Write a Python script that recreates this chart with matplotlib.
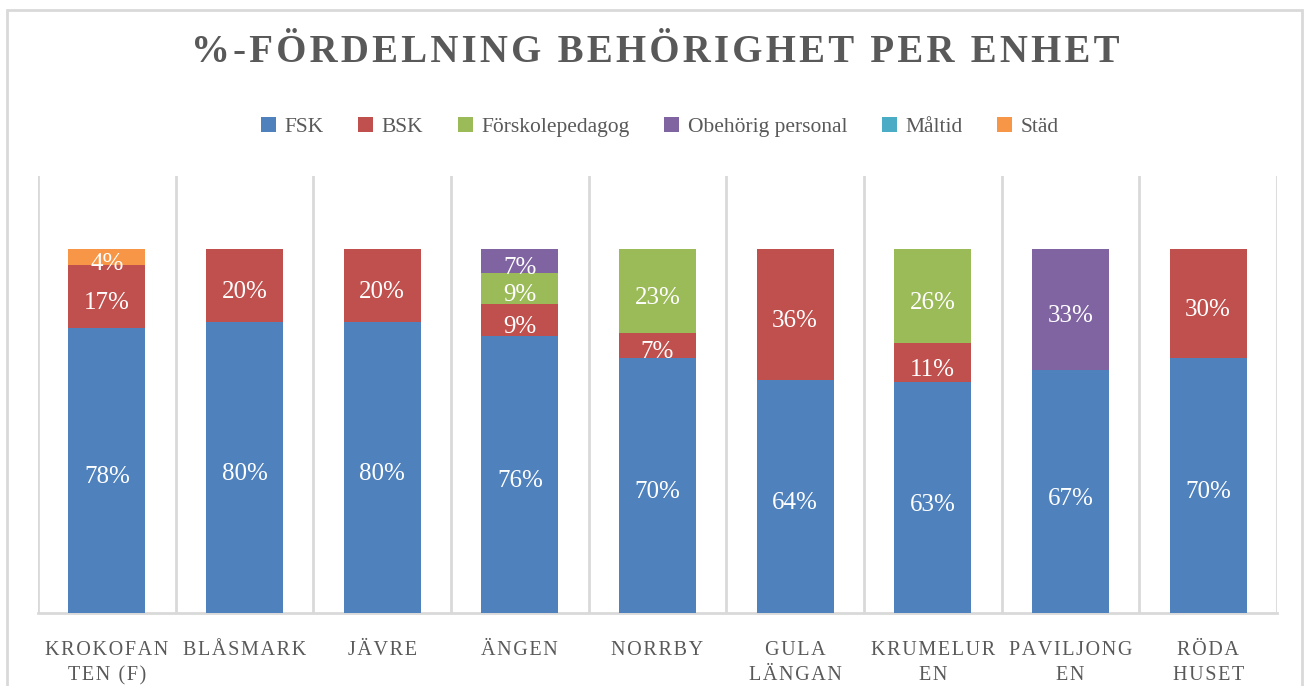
import matplotlib.pyplot as plt
from matplotlib.patches import Rectangle
import numpy as np

units = ["KROKOFAN\nTEN (F)", "BLÅSMARK", "JÄVRE", "ÄNGEN", "NORRBY",
         "GULA\nLÄNGAN", "KRUMELUR\nEN", "PAVILJONG\nEN", "RÖDA\nHUSET"]

fsk = [78.26, 80, 80, 76.09, 70, 64, 63.3, 66.67, 70]
bsk = [17.39, 20, 20, 8.70, 7, 36, 10.9, 0, 30]
forskolepedagog = [0, 0, 0, 8.70, 23, 0, 25.8, 0, 0]
obehorig = [0, 0, 0, 6.52, 0, 0, 0, 33.33, 0]
maltid = [0, 0, 0, 0, 0, 0, 0, 0, 0]
stad = [4.35, 0, 0, 0, 0, 0, 0, 0, 0]

series = [
    ("FSK", fsk, "#4F81BD"),
    ("BSK", bsk, "#C0504D"),
    ("Förskolepedagog", forskolepedagog, "#9BBB59"),
    ("Obehörig personal", obehorig, "#8064A2"),
    ("Måltid", maltid, "#4BACC6"),
    ("Städ", stad, "#F79646"),
]

text_gray = "#595959"
grid_gray = "#D9D9D9"
serif = ["Liberation Serif", "DejaVu Serif"]


def spaced(s, sep="\u2009"):
    # fake letter spacing like the Excel axis labels
    return "\n".join(sep.join(line) for line in s.split("\n"))


fig = plt.figure(figsize=(13.08, 6.86), dpi=100)
fig.patches.append(Rectangle((7 / 1308, -0.05), 1295 / 1308, 1.05 - 10 / 686,
                             transform=fig.transFigure, fill=False,
                             edgecolor=grid_gray, linewidth=2))

ax = fig.add_axes([38 / 1308, 73 / 686, 1239 / 1308, 437 / 686])

x = np.arange(len(units))
bottom = np.zeros(len(units))
handles = []
for name, vals, color in series:
    vals = np.array(vals, dtype=float)
    bars = ax.bar(x, vals, width=0.56, bottom=bottom, color=color, label=name, zorder=3)
    handles.append(bars)
    for xi, v, b in zip(x, vals, bottom):
        if v > 0:
            ax.annotate(f"{v:.0f}%", (xi, b + v / 2), xytext=(0, -5),
                        textcoords="offset points", ha="center", va="center",
                        color="white", fontsize=18, family=serif, zorder=4)
    bottom += vals

ax.set_xlim(-0.5, len(units) - 0.5)
ax.set_ylim(0, 120)
ax.set_yticks([])
ax.set_xticks(x)
ax.set_xticklabels([spaced(u, "\u200a") for u in units], family=serif, fontsize=14.5,
                   color=text_gray, linespacing=1.45)
ax.tick_params(axis="x", length=0, pad=20)

# vertical lines between units
ax.set_xticks(np.arange(-0.5, len(units)), minor=True)
ax.tick_params(axis="x", which="minor", length=0)
ax.grid(axis="x", which="minor", color=grid_gray, linewidth=2, zorder=0)

for side in ["top", "right", "left"]:
    ax.spines[side].set_visible(False)
ax.spines["bottom"].set_color(grid_gray)
ax.spines["bottom"].set_linewidth(2)

fig.text(655 / 1308, 1 - 52 / 686, spaced("%-FÖRDELNING BEHÖRIGHET PER ENHET", "\u200a"),
         ha="center", va="center", fontsize=28, fontweight="bold",
         color=text_gray, family=serif)

fig.legend(handles=handles, loc="center", bbox_to_anchor=(660 / 1308, 1 - 127 / 686),
           ncol=6, frameon=False, handlelength=0.7, handleheight=0.7,
           handletextpad=0.4, columnspacing=1.6,
           prop={"family": serif, "size": 15.5}, labelcolor=text_gray)

fig.savefig("out.png", dpi=100)
